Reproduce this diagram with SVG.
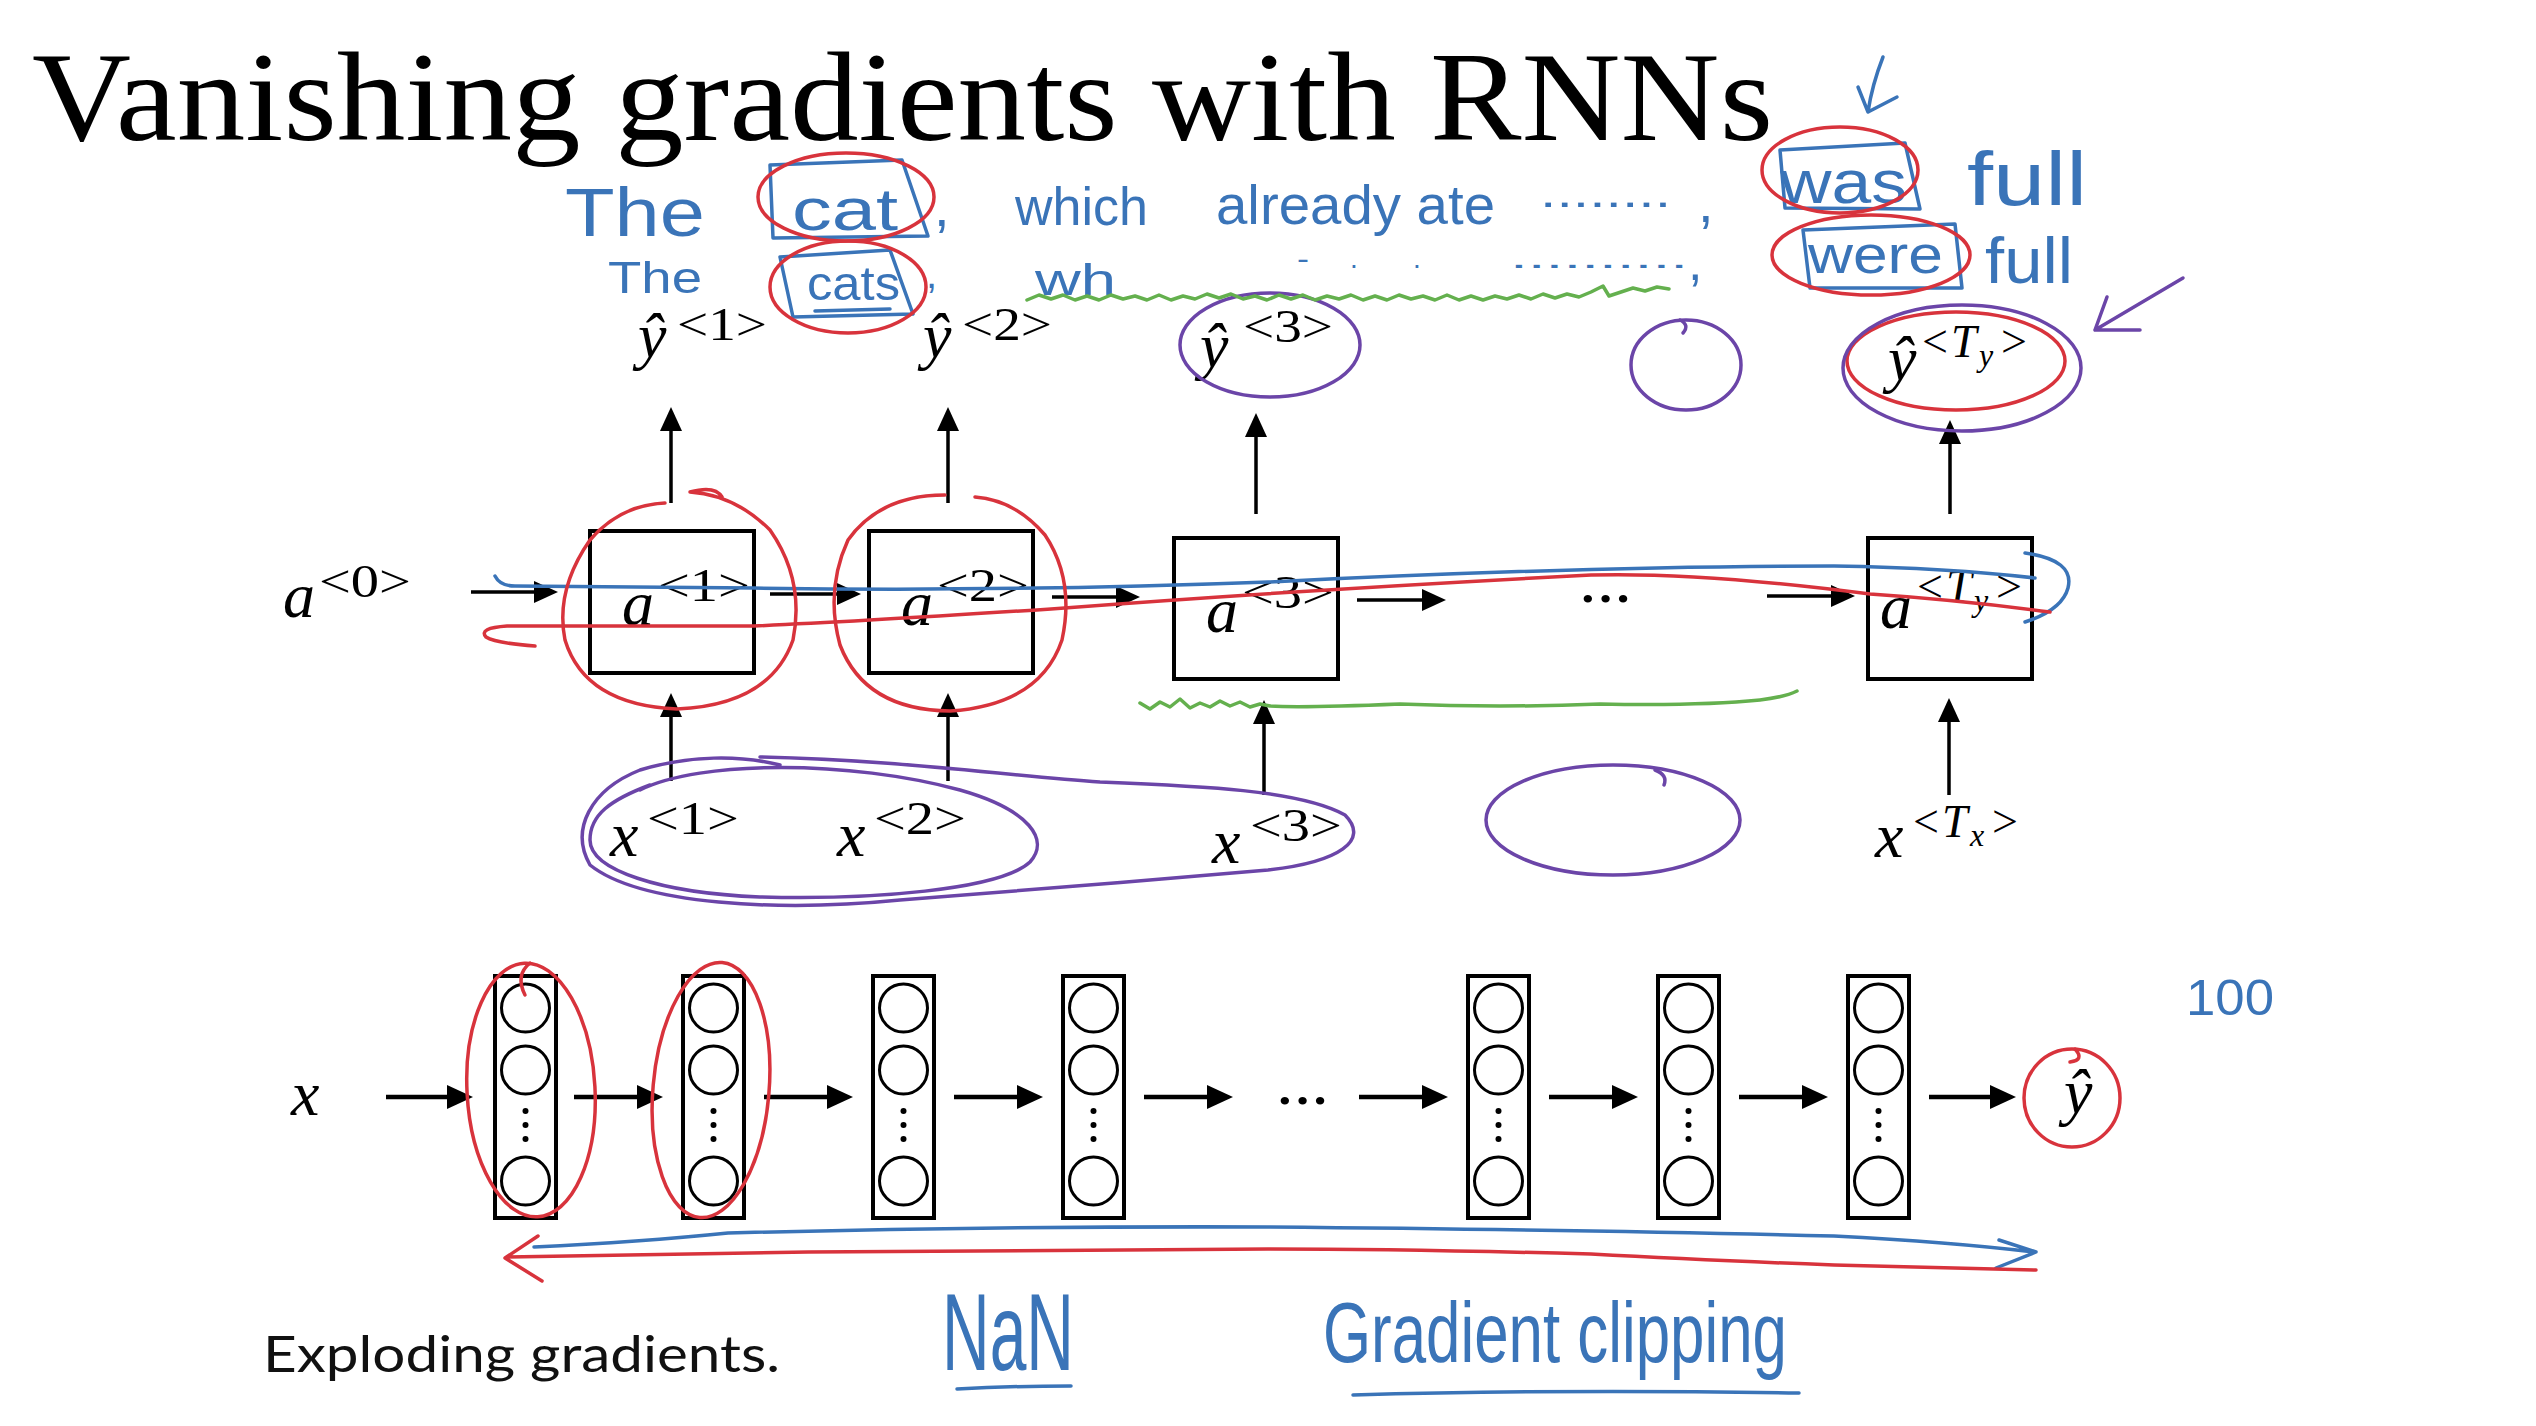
<svg xmlns="http://www.w3.org/2000/svg" width="2536" height="1426" viewBox="0 0 2536 1426">
<style>
.t{font-family:"Liberation Serif","DejaVu Serif",serif;fill:#000}
.v{font-family:"Liberation Serif","DejaVu Serif",serif;font-style:italic;font-size:64px;fill:#000}
.s{font-family:"Liberation Serif","DejaVu Serif",serif;font-size:46px;fill:#000}
.si{font-family:"Liberation Serif","DejaVu Serif",serif;font-style:italic;fill:#000}
.box{fill:none;stroke:#000;stroke-width:4}
.col{fill:#fff;stroke:#000;stroke-width:4}
.neu{fill:none;stroke:#000;stroke-width:3}
.ar{fill:none;stroke:#000;stroke-width:3.5;marker-end:url(#ah)}
.ar2{fill:none;stroke:#000;stroke-width:4.5;marker-end:url(#ah2)}
.hw{font-family:"Liberation Sans","DejaVu Sans",sans-serif;fill:#3a74b8}
.bl{fill:none;stroke:#3a74b8;stroke-width:3.5;stroke-linecap:round;stroke-linejoin:round}
.rd{fill:none;stroke:#d8333c;stroke-width:3.5;stroke-linecap:round;stroke-linejoin:round}
.pu{fill:none;stroke:#6b45a8;stroke-width:3.5;stroke-linecap:round;stroke-linejoin:round}
.gr{fill:none;stroke:#64b04e;stroke-width:3.5;stroke-linecap:round;stroke-linejoin:round}
</style>
<defs>
<marker id="ah" markerUnits="userSpaceOnUse" markerWidth="24" markerHeight="22" refX="16" refY="11" orient="auto"><path d="M0,0 L24,11 L0,22 z" fill="#000"/></marker>
<marker id="ah2" markerUnits="userSpaceOnUse" markerWidth="26" markerHeight="24" refX="18" refY="12" orient="auto"><path d="M0,0 L26,12 L0,24 z" fill="#000"/></marker>
</defs>
<rect width="2536" height="1426" fill="#fff"/>

<g id="title"><text class="t" x="32" y="140" font-size="128" textLength="1741" lengthAdjust="spacingAndGlyphs">Vanishing gradients with RNNs</text></g>

<!-- RNN row -->
<g id="a0"><text class="v" x="283" y="617">a</text><text class="s" x="319" y="597" textLength="92" lengthAdjust="spacingAndGlyphs">&lt;0&gt;</text></g>
<g id="cell1"><rect class="box" x="590" y="531" width="164" height="142"/><text class="v" x="622" y="625">a</text><text class="s" x="658" y="601" textLength="92" lengthAdjust="spacingAndGlyphs">&lt;1&gt;</text></g>
<g id="cell2"><rect class="box" x="869" y="531" width="164" height="142"/><text class="v" x="901" y="625">a</text><text class="s" x="937" y="601" textLength="92" lengthAdjust="spacingAndGlyphs">&lt;2&gt;</text></g>
<g id="cell3"><rect class="box" x="1174" y="538" width="164" height="141"/><text class="v" x="1206" y="632">a</text><text class="s" x="1242" y="608" textLength="92" lengthAdjust="spacingAndGlyphs">&lt;3&gt;</text></g>
<g id="dots1"><text class="t" x="1579" y="602" font-size="64" textLength="53" lengthAdjust="spacingAndGlyphs">...</text></g>
<g id="cellT"><rect class="box" x="1868" y="538" width="164" height="141"/><text class="v" x="1880" y="628">a</text><text class="s" y="602"><tspan x="1917">&lt;</tspan><tspan class="si" x="1946">T</tspan><tspan class="si" x="1974" dy="9" font-size="32">y</tspan><tspan x="1996" dy="-9">&gt;</tspan></text></g>

<g id="y1"><text class="v" x="638" y="357">ŷ</text><text class="s" x="677" y="340" textLength="90" lengthAdjust="spacingAndGlyphs">&lt;1&gt;</text></g>
<g id="y2"><text class="v" x="923" y="357">ŷ</text><text class="s" x="962" y="340" textLength="90" lengthAdjust="spacingAndGlyphs">&lt;2&gt;</text></g>
<g id="y3"><text class="v" x="1200" y="367">ŷ</text><text class="s" x="1243" y="342" textLength="90" lengthAdjust="spacingAndGlyphs">&lt;3&gt;</text></g>
<g id="yT"><text class="v" x="1888" y="380">ŷ</text><text class="s" y="357"><tspan x="1922">&lt;</tspan><tspan class="si" x="1951">T</tspan><tspan class="si" x="1979" dy="9" font-size="32">y</tspan><tspan x="2001" dy="-9">&gt;</tspan></text></g>

<g id="x1"><text class="v" x="610" y="856">x</text><text class="s" x="647" y="834" textLength="92" lengthAdjust="spacingAndGlyphs">&lt;1&gt;</text></g>
<g id="x2"><text class="v" x="837" y="856">x</text><text class="s" x="874" y="834" textLength="92" lengthAdjust="spacingAndGlyphs">&lt;2&gt;</text></g>
<g id="x3"><text class="v" x="1212" y="863">x</text><text class="s" x="1250" y="841" textLength="92" lengthAdjust="spacingAndGlyphs">&lt;3&gt;</text></g>
<g id="xT"><text class="v" x="1875" y="857">x</text><text class="s" y="837"><tspan x="1913">&lt;</tspan><tspan class="si" x="1942">T</tspan><tspan class="si" x="1970" dy="9" font-size="32">x</tspan><tspan x="1992" dy="-9">&gt;</tspan></text></g>

<!-- deep network row -->
<g id="xin"><text class="v" x="291" y="1115">x</text></g>
<g id="L1"><rect class="col" x="495" y="976" width="61" height="242"/><circle class="neu" cx="525.5" cy="1008" r="24"/><circle class="neu" cx="525.5" cy="1070" r="24"/><circle cx="525.5" cy="1111" r="3"/><circle cx="525.5" cy="1125" r="3"/><circle cx="525.5" cy="1139" r="3"/><circle class="neu" cx="525.5" cy="1181" r="24"/></g>
<g id="L2"><rect class="col" x="683" y="976" width="61" height="242"/><circle class="neu" cx="713.5" cy="1008" r="24"/><circle class="neu" cx="713.5" cy="1070" r="24"/><circle cx="713.5" cy="1111" r="3"/><circle cx="713.5" cy="1125" r="3"/><circle cx="713.5" cy="1139" r="3"/><circle class="neu" cx="713.5" cy="1181" r="24"/></g>
<g id="L3"><rect class="col" x="873" y="976" width="61" height="242"/><circle class="neu" cx="903.5" cy="1008" r="24"/><circle class="neu" cx="903.5" cy="1070" r="24"/><circle cx="903.5" cy="1111" r="3"/><circle cx="903.5" cy="1125" r="3"/><circle cx="903.5" cy="1139" r="3"/><circle class="neu" cx="903.5" cy="1181" r="24"/></g>
<g id="L4"><rect class="col" x="1063" y="976" width="61" height="242"/><circle class="neu" cx="1093.5" cy="1008" r="24"/><circle class="neu" cx="1093.5" cy="1070" r="24"/><circle cx="1093.5" cy="1111" r="3"/><circle cx="1093.5" cy="1125" r="3"/><circle cx="1093.5" cy="1139" r="3"/><circle class="neu" cx="1093.5" cy="1181" r="24"/></g>
<g id="dots2"><text class="t" x="1276" y="1104" font-size="64" textLength="53" lengthAdjust="spacingAndGlyphs">...</text></g>
<g id="L5"><rect class="col" x="1468" y="976" width="61" height="242"/><circle class="neu" cx="1498.5" cy="1008" r="24"/><circle class="neu" cx="1498.5" cy="1070" r="24"/><circle cx="1498.5" cy="1111" r="3"/><circle cx="1498.5" cy="1125" r="3"/><circle cx="1498.5" cy="1139" r="3"/><circle class="neu" cx="1498.5" cy="1181" r="24"/></g>
<g id="L6"><rect class="col" x="1658" y="976" width="61" height="242"/><circle class="neu" cx="1688.5" cy="1008" r="24"/><circle class="neu" cx="1688.5" cy="1070" r="24"/><circle cx="1688.5" cy="1111" r="3"/><circle cx="1688.5" cy="1125" r="3"/><circle cx="1688.5" cy="1139" r="3"/><circle class="neu" cx="1688.5" cy="1181" r="24"/></g>
<g id="L7"><rect class="col" x="1848" y="976" width="61" height="242"/><circle class="neu" cx="1878.5" cy="1008" r="24"/><circle class="neu" cx="1878.5" cy="1070" r="24"/><circle cx="1878.5" cy="1111" r="3"/><circle cx="1878.5" cy="1125" r="3"/><circle cx="1878.5" cy="1139" r="3"/><circle class="neu" cx="1878.5" cy="1181" r="24"/></g>
<g id="yout"><text class="v" x="2064" y="1113">ŷ</text></g>

<g id="caption"><text x="263" y="1372" font-family="Lato,'Open Sans','Liberation Sans',sans-serif" font-size="50" fill="#111" textLength="517" lengthAdjust="spacingAndGlyphs">Exploding gradients.</text></g>

<!-- connectors -->
<g id="connectors">
<path class="ar" d="M471,592 H550"/>
<path class="ar" d="M770,594 H853"/>
<path class="ar" d="M1052,597 H1132"/>
<path class="ar" d="M1357,600 H1438"/>
<path class="ar" d="M1767,596 H1847"/>
<path class="ar" d="M671,503 V415"/>
<path class="ar" d="M948,503 V415"/>
<path class="ar" d="M1256,514 V421"/>
<path class="ar" d="M1950,514 V428"/>
<path class="ar" d="M671,781 V701"/>
<path class="ar" d="M948,781 V701"/>
<path class="ar" d="M1264,795 V708"/>
<path class="ar" d="M1949,795 V706"/>
<path class="ar2" d="M386,1097 H465"/>
<path class="ar2" d="M574,1097 H655"/>
<path class="ar2" d="M764,1097 H845"/>
<path class="ar2" d="M954,1097 H1035"/>
<path class="ar2" d="M1144,1097 H1225"/>
<path class="ar2" d="M1359,1097 H1440"/>
<path class="ar2" d="M1549,1097 H1630"/>
<path class="ar2" d="M1739,1097 H1820"/>
<path class="ar2" d="M1929,1097 H2008"/>
</g>

<!-- handwritten annotations -->
<g id="notes-text">
<text class="hw" x="565" y="236" font-size="68" textLength="140" lengthAdjust="spacingAndGlyphs">The</text>
<text class="hw" x="792" y="230" font-size="60" textLength="106" lengthAdjust="spacingAndGlyphs">cat</text>
<text class="hw" x="934" y="226" font-size="56">,</text>
<text class="hw" x="1015" y="225" font-size="54" textLength="133" lengthAdjust="spacingAndGlyphs">which</text>
<text class="hw" x="1216" y="224" font-size="56" textLength="279" lengthAdjust="spacingAndGlyphs">already ate</text>
<text class="hw" x="1540" y="207" font-size="40" textLength="131" lengthAdjust="spacingAndGlyphs">........</text>
<text class="hw" x="1698" y="222" font-size="56">,</text>
<text class="hw" x="608" y="293" font-size="44" textLength="94" lengthAdjust="spacingAndGlyphs">The</text>
<text class="hw" x="807" y="300" font-size="48" textLength="93" lengthAdjust="spacingAndGlyphs">cats</text>
<text class="hw" x="926" y="288" font-size="40">,</text>
<text class="hw" x="1035" y="295" font-size="44" textLength="81" lengthAdjust="spacingAndGlyphs">wh</text>
<text class="hw" x="1297" y="268" font-size="28" textLength="12" lengthAdjust="spacingAndGlyphs">-</text>
<text class="hw" x="1350" y="268" font-size="28">.</text>
<text class="hw" x="1413" y="268" font-size="28">.</text>
<text class="hw" x="1510" y="268" font-size="30" textLength="178" lengthAdjust="spacingAndGlyphs">..........</text>
<text class="hw" x="1688" y="280" font-size="52">,</text>
<text class="hw" x="1780" y="203" font-size="62" textLength="127" lengthAdjust="spacingAndGlyphs">was</text>
<text class="hw" x="1967" y="205" font-size="76" textLength="120" lengthAdjust="spacingAndGlyphs">full</text>
<text class="hw" x="1808" y="273" font-size="54" textLength="135" lengthAdjust="spacingAndGlyphs">were</text>
<text class="hw" x="1985" y="283" font-size="64" textLength="88" lengthAdjust="spacingAndGlyphs">full</text>
<text class="hw" x="2186" y="1015" font-size="50" textLength="88" lengthAdjust="spacingAndGlyphs">100</text>
<text class="hw" x="942" y="1370" font-size="110" textLength="132" lengthAdjust="spacingAndGlyphs">NaN</text>
<text class="hw" x="1323" y="1362" font-size="86" textLength="464" lengthAdjust="spacingAndGlyphs">Gradient clipping</text>
</g>

<g id="notes-blue">
<path class="bl" d="M770,165 L902,160 L928,236 L773,238 Z"/>
<path class="bl" d="M780,257 L890,250 L913,314 L793,317 Z M815,311 L890,309"/>
<path class="bl" d="M1780,150 L1905,143 L1920,209 L1785,208 Z"/>
<path class="bl" d="M1803,230 L1955,224 L1962,288 L1810,288 Z"/>
<path class="bl" d="M1883,57 Q1872,85 1868,112 M1858,87 L1868,112 L1897,97"/>
<path class="bl" d="M495,576 Q500,586 515,586 L754,588 Q1000,592 1268,582 Q1591,566 1834,566 Q1950,568 2035,578"/>
<path class="bl" d="M2025,553 Q2075,560 2068,588 Q2062,610 2025,622"/>
<path class="bl" d="M534,1247 Q640,1242 728,1233 Q1000,1226 1268,1227 Q1600,1230 1834,1236 Q1950,1242 2034,1252 M1999,1240 L2036,1252 L1996,1268"/>
<path class="bl" d="M957,1389 Q1010,1386 1071,1386"/>
<path class="bl" d="M1353,1395 Q1560,1389 1799,1393"/>
</g>

<g id="notes-red">
<ellipse class="rd" cx="846" cy="197" rx="88" ry="44"/>
<ellipse class="rd" cx="848" cy="287" rx="78" ry="46"/>
<ellipse class="rd" cx="1840" cy="170" rx="78" ry="43"/>
<ellipse class="rd" cx="1871" cy="255" rx="99" ry="40"/>
<ellipse class="rd" cx="1956" cy="361" rx="109" ry="49"/>
<path class="rd" d="M665,503 Q620,505 590,540 Q555,590 565,640 Q585,705 677,709 Q770,705 793,640 Q805,580 770,530 Q735,495 690,492 Q715,485 722,497"/>
<path class="rd" d="M945,495 Q880,495 848,540 Q825,590 840,645 Q865,710 950,711 Q1040,705 1062,640 Q1075,580 1045,535 Q1015,500 975,497"/>
<path class="rd" d="M2050,612 Q1960,600 1870,594 Q1700,572 1591,575 Q1300,590 1051,609 Q850,622 754,626 L507,626 Q478,628 486,637 Q495,643 535,646"/>
<ellipse class="rd" cx="531" cy="1090" rx="64" ry="127" transform="rotate(-3 531 1090)"/>
<path class="rd" d="M530,963 Q515,975 525,995"/>
<ellipse class="rd" cx="711" cy="1090" rx="58" ry="128" transform="rotate(5 711 1090)"/>
<ellipse class="rd" cx="2072" cy="1098" rx="48" ry="49"/>
<path class="rd" d="M2075,1049 Q2085,1060 2070,1062"/>
<path class="rd" d="M2036,1270 Q1950,1268 1834,1265 Q1700,1260 1591,1254 Q1400,1249 1268,1249 Q1000,1250 808,1252 Q650,1254 507,1257 M538,1236 L505,1258 L542,1281"/>
</g>

<g id="notes-purple">
<ellipse class="pu" cx="1270" cy="345" rx="90" ry="52"/>
<ellipse class="pu" cx="1686" cy="365" rx="55" ry="45"/>
<path class="pu" d="M1680,320 Q1690,325 1683,333"/>
<ellipse class="pu" cx="1962" cy="368" rx="119" ry="63"/>
<path class="pu" d="M2183,278 L2095,330 M2107,297 L2095,330 L2140,330"/>
<path class="pu" d="M640,790 C700,760 850,760 960,790 C1030,810 1050,840 1030,862 C1000,890 870,900 760,897 C660,893 590,870 590,840 C590,815 610,800 650,785"/>
<path class="pu" d="M760,757 C900,760 1000,775 1100,782 C1200,786 1300,790 1345,815 C1370,840 1340,862 1268,870 C1150,880 1000,893 900,900 C780,912 640,905 590,865 C570,830 590,790 640,770 C690,755 740,755 780,765"/>
<ellipse class="pu" cx="1613" cy="820" rx="127" ry="55"/>
<path class="pu" d="M1655,770 Q1668,775 1664,785"/>
</g>

<g id="notes-green">
<path class="gr" d="M1027,300 l12,-5 l12,4 l12,-4 l12,5 l12,-4 l12,4 l12,-5 l12,4 l12,-3 l12,4 l12,-5 l12,5 l12,-4 l12,3 l12,-5 l12,4 l12,-4 l12,5 l12,-3 l12,4 l12,-5 l12,4 l12,-4 l12,5 l12,-4 l12,3 l12,-4 l12,5 l12,-4 l12,4 l12,-5 l12,4 l12,-3 l12,4 l12,-5 l12,5 l12,-4 l12,4 l12,-4 l12,3 l12,-4 l12,4 l12,-5 l12,4 l12,-4 l12,3 l12,-5 l12,-6 l6,10 l12,-4 l12,-4 l12,3 l12,-4 l12,2"/>
<path class="gr" d="M1140,703 l10,6 l10,-7 l10,5 l10,-8 l10,9 l10,-5 l10,4 l10,-6 l10,5 l10,-4 l10,5 l10,-3 l10,2 Q1300,708 1400,704 Q1500,708 1600,704 Q1700,706 1760,700 Q1785,697 1797,691"/>
</g>
</svg>
